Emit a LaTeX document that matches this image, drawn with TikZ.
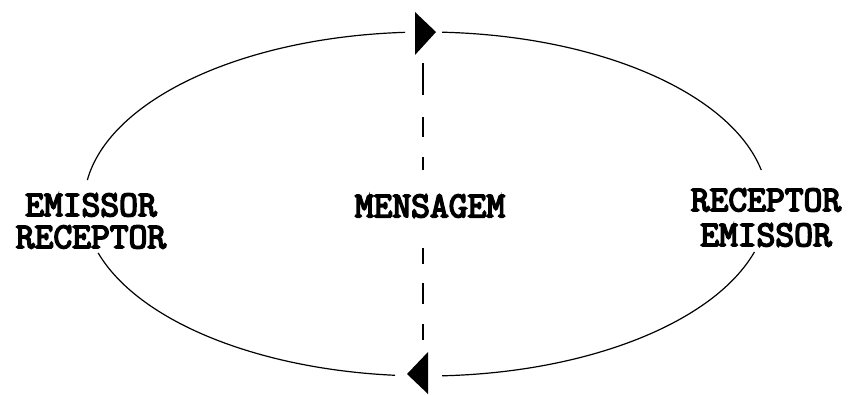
\documentclass[tikz,border=0pt]{standalone}
\usepackage{fontspec}
\newfontfamily\courb{Latin Modern Mono}[AutoFakeBold=4.5]
\begin{document}
\begin{tikzpicture}[x=1pt,y=-1pt,
  lbl/.style={font=\courb\bfseries\fontsize{36.5}{32}\selectfont, inner sep=2pt, align=center},
  ring/.style={line width=1.2pt},
  msg/.style={dash pattern=on 20pt off 20pt, line width=1.3pt}]
\useasboundingbox (0,0) rectangle (848,394);
\coordinate (c) at (426,204);
% ellipse arcs (y axis points down: angles measured clockwise on screen)
\draw[ring] (c) ++(16.2:342 and 172) arc[start angle=16.2, end angle=87.3, x radius=342, y radius=172];
\draw[ring] (c) ++(95.2:342 and 172) arc[start angle=95.2, end angle=163.5, x radius=342, y radius=172];
\draw[ring] (c) ++(188:342 and 172) arc[start angle=188, end angle=266.5, x radius=342, y radius=172];
\draw[ring] (c) ++(272.7:342 and 172) arc[start angle=272.7, end angle=348.6, x radius=342, y radius=172];
% triangles
\fill (415,12) -- (415,55) -- (436,32) -- cycle;
\fill (428,352) -- (428,394) -- (407,374) -- cycle;
% dashed line, broken around the message label
\node[lbl] (m) at (430,206) {MENSAGEM};
\coordinate (dtop) at (423,63);
\coordinate (dtopend) at (423,170);
\coordinate (dbotstart) at (423,248);
\coordinate (dbot) at (423,343);
\draw[msg, dash pattern=on 32pt off 22pt on 20pt off 20pt] (dtop) -- (dtopend);
\draw[msg, dash pattern=on 16pt off 19pt on 21pt off 20pt] (dbotstart) -- (dbot);
\node[lbl] (l) at (91,221) {EMISSOR\\RECEPTOR};
\node[lbl] (r) at (766,217.5) {RECEPTOR\\[3pt]EMISSOR};
\end{tikzpicture}
\end{document}
